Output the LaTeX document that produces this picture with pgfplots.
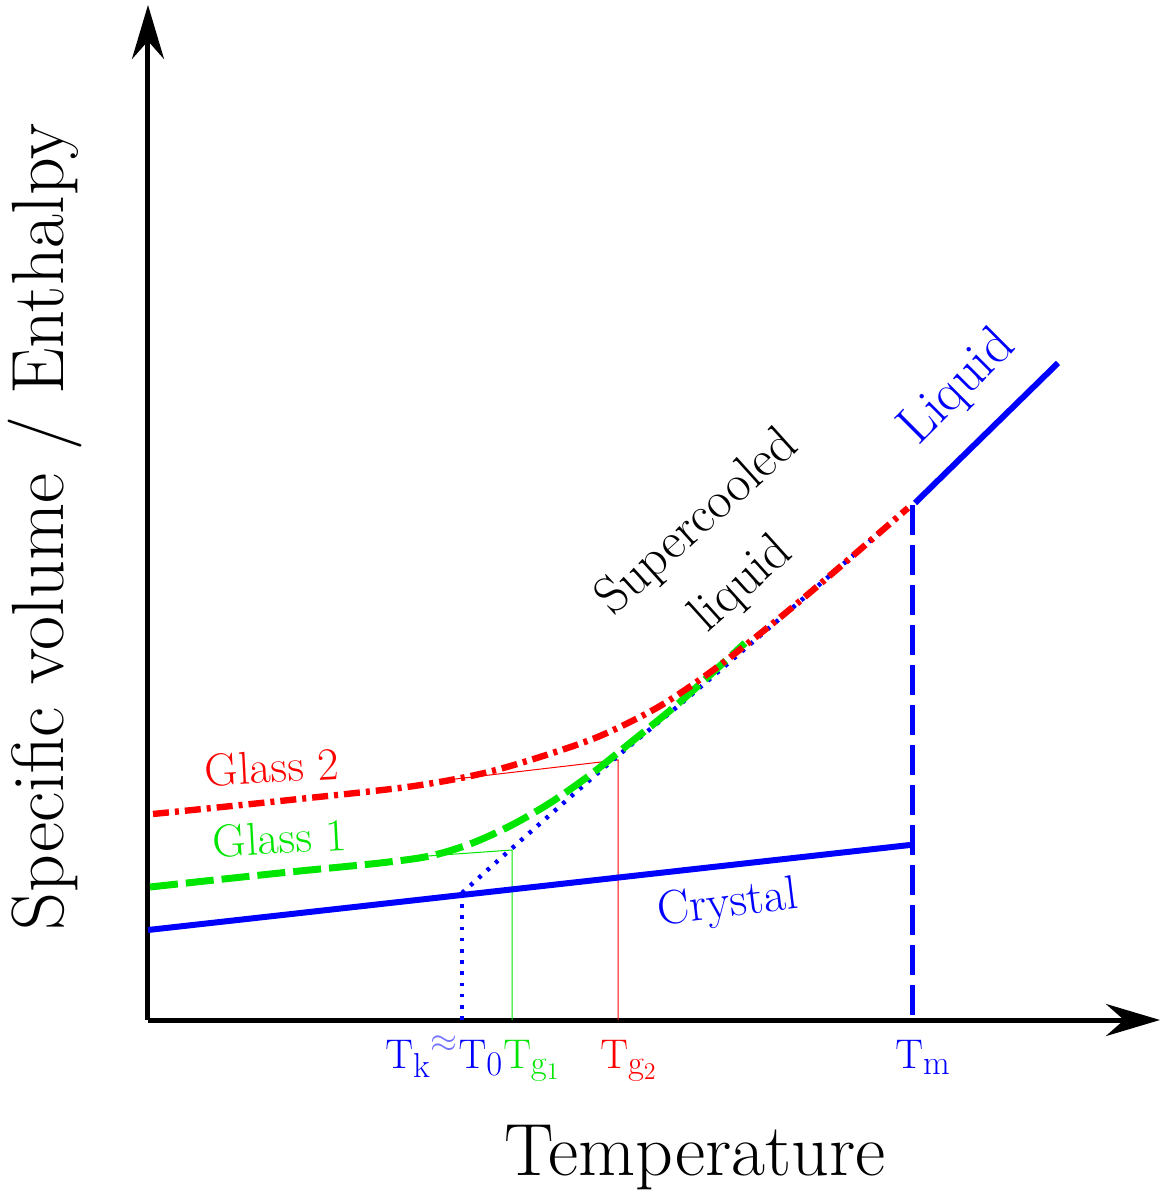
\documentclass[border=0pt]{standalone}
\usepackage{pgfplots}
\pgfplotsset{compat=1.18}
\usetikzlibrary{arrows.meta}
\DeclareMathSizes{22}{22}{16}{12}
\definecolor{myblue}{RGB}{0,0,255}
\definecolor{myred}{RGB}{255,0,0}
\definecolor{mygreen}{RGB}{0,230,0}
\begin{document}
\begin{tikzpicture}
\begin{axis}[
  scale only axis, width=506pt, height=507.5pt,
  xmin=0, xmax=1012, ymin=0, ymax=1015,
  axis lines=left,
  axis line style={line width=2.5pt, -{Stealth[length=27pt,width=16pt,inset=9pt]}},
  xtick=\empty, ytick=\empty,
  clip=false,
  xlabel={Temperature}, ylabel={Specific volume / Enthalpy},
  every axis x label/.style={at={(axis cs:547,-138)}, anchor=center, font=\fontsize{37}{42}\selectfont},
  every axis y label/.style={at={(axis cs:-103,493)}, anchor=center, rotate=90, font=\fontsize{37}{42}\selectfont},
]
\path (axis cs:-148,-178) rectangle (axis cs:1018,1020);
% thin construction lines
\addplot[mygreen, line width=0.5pt] coordinates {(252,162) (364,170) (364,0)};
\addplot[myred, line width=0.5pt] coordinates {(299,240) (470,260) (470,0)};
% crystal
\addplot[myblue, line width=3pt] coordinates {(0,90) (762,175)};
% liquid
\addplot[myblue, line width=3pt] coordinates {(767,517) (910,657)};
% Tm vertical
\addplot[myblue, line width=2.5pt, dash pattern=on 15pt off 5pt] coordinates {(764,515) (764,0)};
% supercooled liquid extrapolation
\addplot[myblue, line width=2.2pt, dash pattern=on 1.8pt off 3.8pt, smooth] coordinates {(314,127) (362,170) (465,260) (549,330) (760,512)};
\addplot[myblue, line width=2.2pt, dash pattern=on 1.8pt off 3.8pt] coordinates {(314,127) (314,0)};
% glass 1
\addplot[mygreen, line width=3.5pt, dash pattern=on 14pt off 4pt, smooth] coordinates {(2,133) (132,147) (232,157) (282,164) (322,176) (362,194) (402,217) (442,245) (482,277) (532,318) (597,377)};
% glass 2
\addplot[myred, line width=3.2pt, dash pattern=on 8pt off 3pt on 2pt off 3pt, smooth] coordinates {(5,206) (132,219) (259,233) (332,246) (392,263) (452,284) (512,314) (572,355) (652,419) (760,512)};
% labels
\node[myred, rotate=3, font=\fontsize{23}{26}\selectfont] at (axis cs:124,253) {Glass 2};
\node[mygreen, rotate=3, font=\fontsize{23}{26}\selectfont] at (axis cs:132,182) {Glass 1};
\node[myblue, rotate=7, font=\fontsize{24}{28}\selectfont] at (axis cs:580,115) {Crystal};
\node[black, rotate=42, font=\fontsize{26}{30}\selectfont] at (axis cs:550,497) {Supercooled};
\node[black, rotate=42, font=\fontsize{26}{30}\selectfont] at (axis cs:594,435) {liquid};
\node[myblue, rotate=45, font=\fontsize{27}{30}\selectfont] at (axis cs:810,632) {Liquid};
% tick labels
\node[anchor=base west, inner sep=0pt, font=\fontsize{22}{26}\selectfont] at (axis cs:237,-48)
  {\textcolor{myblue}{$\mathrm{T_k}$}\textcolor{myblue!55}{$^{\approx}$}\textcolor{myblue}{$\mathrm{T_0}$}\textcolor{mygreen}{$\mathrm{T_{g_1}}$}};
\node[anchor=base west, inner sep=0pt, font=\fontsize{22}{26}\selectfont, myred] at (axis cs:452,-48) {$\mathrm{T_{g_2}}$};
\node[anchor=base west, inner sep=0pt, font=\fontsize{22}{26}\selectfont, myblue] at (axis cs:747,-48) {$\mathrm{T_m}$};
\end{axis}
\end{tikzpicture}
\end{document}
